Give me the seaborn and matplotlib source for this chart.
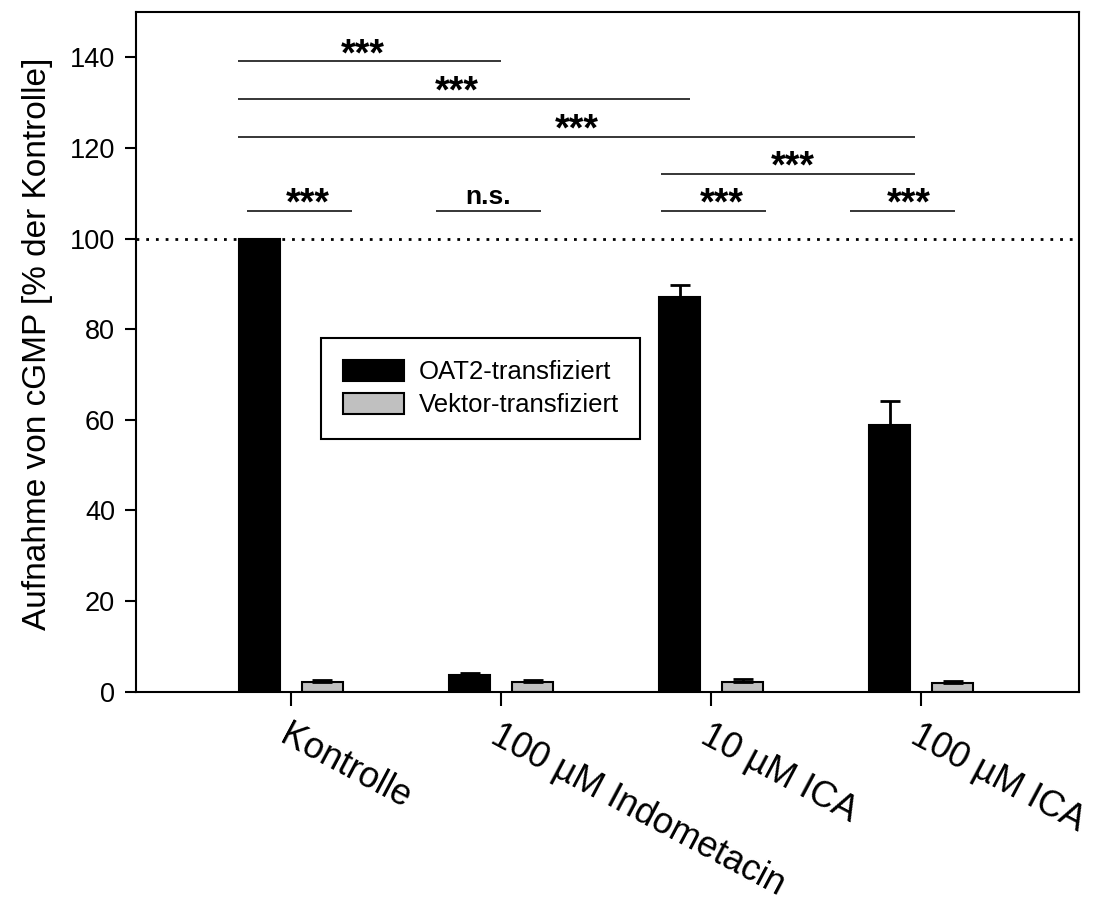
import matplotlib
matplotlib.use("Agg")
import matplotlib.pyplot as plt
from matplotlib.patches import Patch
import seaborn as sns
import pandas as pd

# Treatments and measured cGMP uptake (% of control), mean and SEM
categories = ["Kontrolle", "100 µM Indometacin", "10 µM ICA", "100 µM ICA"]
series = ["OAT2-transfiziert", "Vektor-transfiziert"]
oat2_mean = [100.0, 3.7, 87.2, 58.8]
oat2_err = [0.0, 0.4, 2.5, 5.4]
vektor_mean = [2.0, 2.1, 2.1, 1.8]
vektor_err = [0.5, 0.4, 0.6, 0.6]

# Significance annotations: (x start, x end, height, label, label x)
brackets = [
    (-0.25, 1.00, 139.1, "***", 0.34),
    (-0.25, 1.90, 130.9, "***", 0.79),
    (-0.25, 2.97, 122.4, "***", 1.36),
    (1.76, 2.97, 114.3, "***", 2.39),
    (-0.21, 0.29, 106.0, "***", 0.08),
    (0.69, 1.19, 106.0, "n.s.", 0.94),
    (1.76, 2.26, 106.0, "***", 2.05),
    (2.66, 3.16, 106.0, "***", 2.94),
]

sns.set_style("ticks")
plt.rcParams["font.family"] = ["Liberation Sans", "DejaVu Sans"]
plt.rcParams["text.color"] = "black"
plt.rcParams["axes.labelcolor"] = "black"
plt.rcParams["xtick.color"] = "black"
plt.rcParams["ytick.color"] = "black"

df = pd.DataFrame({
    "Behandlung": categories * 2,
    "Gruppe": [series[0]] * len(categories) + [series[1]] * len(categories),
    "Wert": oat2_mean + vektor_mean,
})
errs = [oat2_err, vektor_err]
colors = ["#000000", "#c0c0c0"]

fig = plt.figure(figsize=(10.94, 9.05), dpi=100)
ax = fig.add_axes([0.1243, 0.2359, 0.8620, 0.7508])

sns.barplot(data=df, x="Behandlung", y="Wert", hue="Gruppe", order=categories,
            hue_order=series, palette=colors, width=0.6, gap=0.35,
            edgecolor="black", linewidth=1.5, errorbar=None, legend=False, ax=ax)

# upward-only error bars on top of each bar
for cont, err in zip(ax.containers, errs):
    for bar, e in zip(cont, err):
        if e <= 0:
            continue
        xc = bar.get_x() + bar.get_width() / 2
        h = bar.get_height()
        ax.errorbar(xc, h, yerr=[[0], [e]], fmt="none", ecolor="black",
                    elinewidth=2.0, capsize=7, capthick=2.0, zorder=3)

# 100 % reference line
ax.axhline(100, color="black", linestyle=(0, (1, 2.5)), linewidth=2.0, zorder=1)

# significance bars
for x1, x2, y, lab, xt in brackets:
    ax.plot([x1, x2], [y, y], color="black", linewidth=1.1, solid_capstyle="butt")
    if lab == "n.s.":
        ax.text(xt, y + 1.6, lab, ha="center", va="baseline", fontsize=19,
                fontweight="bold")
    else:
        ax.text(xt, y - 0.8, lab, ha="center", va="baseline", fontsize=27,
                fontweight="bold")

ax.set_ylim(0, 150)
ax.set_xlim(-0.738, 3.752)
ax.set_yticks([0, 20, 40, 60, 80, 100, 120, 140])
ax.set_xticks(range(len(categories)))
ax.set_xticklabels(categories, rotation=-28, ha="left", va="top",
                   rotation_mode="anchor", fontsize=26)
ax.tick_params(axis="y", labelsize=19.5, length=8, width=1.5, direction="out", pad=7)
ax.tick_params(axis="x", length=10, width=1.5, direction="out", pad=9)
ax.set_xlabel("")
ax.set_ylabel("Aufnahme von cGMP [% der Kontrolle]", fontsize=24)
ax.yaxis.set_label_coords(-0.088, 0.511)
for sp in ax.spines.values():
    sp.set_visible(True)
    sp.set_linewidth(1.5)
    sp.set_color("black")

handles = [Patch(facecolor=c, edgecolor="black", linewidth=1.5) for c in colors]
leg = ax.legend(handles, series, loc="upper left", bbox_to_anchor=(0.196, 0.52),
                borderaxespad=0, fontsize=18.5, frameon=True, fancybox=False,
                handlelength=2.4, handleheight=0.85, handletextpad=0.55,
                labelspacing=0.35, borderpad=0.85)
leg.get_frame().set_edgecolor("black")
leg.get_frame().set_linewidth(1.5)
leg.get_frame().set_alpha(1)

fig.savefig("out.png", dpi=100)
